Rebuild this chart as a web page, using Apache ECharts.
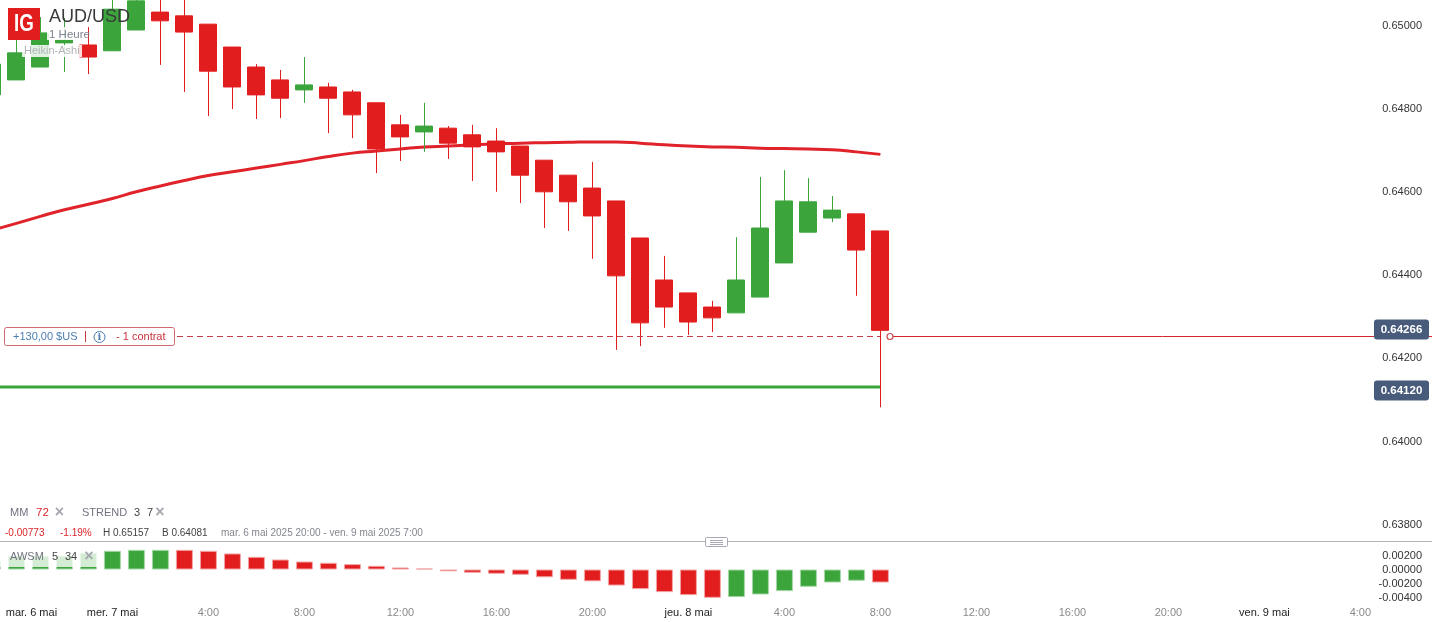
<!DOCTYPE html>
<html><head><meta charset="utf-8">
<style>html,body{margin:0;padding:0;background:#fff}#c{width:1432px;height:622px}</style>
<script src="https://cdn.jsdelivr.net/npm/echarts@6/dist/echarts.min.js"></script>
</head><body><div id="c"></div>
<script>
const timeLabels = ['','','mar. 6 mai','','','mer. 7 mai','','','','4:00','','','','8:00','','','','12:00','','','','16:00','','','','20:00','','','','jeu. 8 mai','','','','4:00','','','','8:00','','','','12:00','','','','16:00','','','','20:00','','','','ven. 9 mai','','','','4:00'];
const dateTicks = ['mar. 6 mai','mer. 7 mai','jeu. 8 mai','ven. 9 mai'];
const opens  = [.64832,.64868,.64899,.64957,.64952,.64938,.64988,.65031,.65022,.65002,.64947,.64899,.64868,.64844,.64851,.64839,.64813,.64760,.64743,.64752,.64736,.64721,.64709,.64675,.64639,.64608,.64577,.64488,.64387,.64356,.64322,.64308,.64346,.64428,.64502,.64536,.64546,.64505];
const closes = [.64906,.64933,.64981,.64964,.64923,.65038,.65058,.65010,.64983,.64889,.64851,.64832,.64824,.64856,.64824,.64784,.64702,.64731,.64757,.64716,.64707,.64695,.64639,.64599,.64575,.64541,.64397,.64284,.64322,.64286,.64296,.64387,.64512,.64577,.64575,.64555,.64459,.64266];
const lows   = [.64832,.64868,.64899,.64887,.64882,.64938,.64988,.64904,.64839,.64781,.64798,.64774,.64776,.64813,.64740,.64728,.64644,.64673,.64695,.64678,.64625,.64599,.64572,.64512,.64505,.64438,.64219,.64228,.64272,.64255,.64262,.64308,.64346,.64428,.64502,.64526,.64349,.64081];
const highs  = [.64906,.64988,.65019,.65017,.64995,.65070,.65084,.65079,.65070,.65002,.64947,.64906,.64892,.64923,.64861,.64844,.64813,.64784,.64813,.64757,.64760,.64752,.64709,.64675,.64639,.64671,.64577,.64488,.64445,.64356,.64337,.64490,.64635,.64651,.64632,.64589,.64546,.64505];
const maValues = [.64507,.64523,.64540,.64556,.64569,.64583,.64599,.64613,.64626,.64638,.64647,.64656,.64665,.64674,.64684,.64692,.64697,.64702,.64707,.64709,.64712,.64714,.64716,.64717,.64718,.64719,.64719,.64716,.64712,.64709,.64707,.64706,.64704,.64703,.64702,.64700,.64695,.64689];
const strendLevel = 0.64130;
const awsmValues = [.00124,.00196,.00196,.00196,.00239,.00267,.00281,.00281,.00281,.00267,.00229,.00181,.00143,.00114,.00096,.00077,.00053,.00029,.00014,-.00026,-.00047,-.00061,-.00076,-.00111,-.00147,-.00169,-.00229,-.0028,-.00323,-.00366,-.00404,-.00394,-.00357,-.00309,-.00247,-.00186,-.00161,-.00186];
const awsmDir = ['u','u','u','u','u','u','u','u','d','d','d','d','d','d','d','d','d','d','d','d','d','d','d','d','d','d','d','d','d','d','d','u','u','u','u','u','u','d'];
const priceTicks = [0.638,0.640,0.642,0.644,0.646,0.648,0.650];
const awsmTicks = [-0.004,-0.002,0,0.002];

const GREEN='#3ba53c', RED='#e21d1e', FONT='"Liberation Sans",Arial,sans-serif';
const candles = opens.map((o,i)=>[o,closes[i],lows[i],highs[i]]);
const chart = echarts.init(document.getElementById('c'),null,{renderer:'canvas'});
const T=(text,x,y,fill,size,extra,scaleX)=>({type:'text',x,y,z:50,silent:true,scaleX:scaleX||1,style:Object.assign({text,fill,fontSize:size,fontFamily:FONT,textVerticalAlign:'middle'},extra||{})});
const R=(x,y,w,h,fill,extra,r)=>({type:'rect',z:40,silent:true,shape:{x,y,width:w,height:h,r:r||0},style:Object.assign({fill},extra||{})});
const L=(x1,y1,x2,y2,stroke,w,dash)=>({type:'line',z:40,silent:true,shape:{x1,y1,x2,y2},style:{stroke,lineWidth:w||1,lineDash:dash||null}});
const X=(x,y)=>T('×',x,y,'#a5a7b0',16,{fontWeight:'bold',textAlign:'center'});
const xHidden={type:'category',data:timeLabels,axisLine:{show:false},axisTick:{show:false},axisLabel:{show:false},splitLine:{show:false}};
const graphics=[
 R(22,45,60,12,'rgba(255,255,255,0.85)'),
 R(47,27,40,13,'rgba(255,255,255,0.85)'),
 R(8,8,32,32,RED),
 T('IG',24,24.5,'#fff',24,{fontWeight:'bold',textAlign:'center'},0.78),
 T('AUD/USD',49,17,'#3a3a3a',18),
 T('1 Heure',49,34.5,'#7f8290',11.5),
 T('Heikin-Ashi',24,51,'#b2b2ba',11),
 T('MM',10,513,'#70737f',11),T('72',36,513,'#d9252a',11.5),X(59.5,513),
 T('STREND',82,513,'#70737f',11),T('3',134,513,'#444',11),T('7',147,513,'#444',11),X(160,513),
 T('-0.00773',5,533,'#d9252a',10),T('-1.19%',60,533,'#d9252a',10),
 T('H 0.65157',103,533,'#444',10),T('B 0.64081',162,533,'#444',10),
 T('mar. 6 mai 2025 20:00 - ven. 9 mai 2025 7:00',221,533,'#84868f',10),
 L(0,541.5,1432,541.5,'#b3b3b8',1),
 R(705.5,537.5,22,9,'#fff',{stroke:'#a8a8b4',lineWidth:1},1),
 L(710,540.5,723,540.5,'#a8a8b4',1),L(710,542.5,723,542.5,'#a8a8b4',1),L(710,544.5,723,544.5,'#a8a8b4',1),
 R(0,551,98,16,'rgba(255,255,255,0.78)'),
 T('AWSM',10,557,'#70737f',11),T('5',52,557,'#444',11),T('34',65,557,'#444',11),X(89,557),
 L(177,336.5,880,336.5,'#c4404a',1,[6,4]),
 L(893,336.5,1432,336.5,'#d3262c',1),
 {type:'circle',z:41,silent:true,shape:{cx:890,cy:336.5,r:3},style:{fill:'#fff',stroke:'#c9484e',lineWidth:1.2}},
 R(4.5,327.5,170,18,'#fff',{stroke:'#cf6a70',lineWidth:1},2),
 T('+130,00 $US',13,337,'#4a7db0',11),
 L(85.5,331,85.5,342,'#c53a40',1),
 {type:'circle',z:41,silent:true,shape:{cx:99.5,cy:337,r:5.5},style:{fill:'#fff',stroke:'#4a7db0',lineWidth:1}},
 T('i',99.5,337,'#4a7db0',10,{textAlign:'center',fontWeight:'bold',fontFamily:'"DejaVu Serif",serif'}),
 T('- 1 contrat',116,337,'#c8323c',11),
 R(1374,319.5,55,20,'#485b7b',null,3),
 T('0.64266',1401.5,330,'#fff',11.5,{fontWeight:'bold',textAlign:'center'}),
 R(1374,380.5,55,20,'#485b7b',null,3),
 T('0.64120',1401.5,391,'#fff',11.5,{fontWeight:'bold',textAlign:'center'})
];
chart.setOption({
 animation:false,
 backgroundColor:'#fff',
 textStyle:{fontFamily:FONT},
 grid:[{left:-19.6,top:0,width:1392,height:541,outerBoundsMode:'none'},{left:-19.6,top:541,width:1392,height:61,outerBoundsMode:'none'}],
 xAxis:[
  Object.assign({gridIndex:0},xHidden),
  {type:'category',gridIndex:1,data:timeLabels,axisLine:{show:false},axisTick:{show:false},splitLine:{show:false},
   axisLabel:{show:true,interval:0,margin:5,hideOverlap:false,
    formatter:v=>{ if(!v) return ''; if(v==='mar. 6 mai') return '{s|'+v+'}'; return dateTicks.includes(v)?'{d|'+v+'}':'{t|'+v+'}'; },
    rich:{d:{color:'#222',fontSize:11,fontFamily:FONT},s:{color:'#222',fontSize:11,fontFamily:FONT,padding:[0,18,0,0]},t:{color:'#8a8a8a',fontSize:11,fontFamily:FONT}}}}
 ],
 yAxis:[
  {type:'value',gridIndex:0,position:'right',min:0.637596,max:0.650601,axisLine:{show:false},axisTick:{show:false},splitLine:{show:false},
   axisLabel:{customValues:priceTicks,align:'right',margin:49.6,verticalAlign:'middle',color:'#333',fontSize:11,formatter:v=>'{v|'+v.toFixed(5)+'}',rich:{v:{color:'#333',fontSize:11,fontFamily:FONT,padding:[1,0,0,0]}}}},
  {type:'value',gridIndex:1,position:'right',min:-0.00464,max:0.00407,axisLine:{show:false},axisTick:{show:false},splitLine:{show:false},
   axisLabel:{customValues:awsmTicks,align:'right',margin:49.6,verticalAlign:'middle',color:'#333',fontSize:11,formatter:v=>'{v|'+v.toFixed(5)+'}',rich:{v:{color:'#333',fontSize:11,fontFamily:FONT,padding:[1,0,0,0]}}}}
 ],
 series:[
  {type:'line',name:'MM 72',data:maValues,xAxisIndex:0,yAxisIndex:0,showSymbol:false,smooth:0.5,z:2,lineStyle:{color:'#e0232a',width:3}},
  {type:'line',name:'STREND',data:[[0,strendLevel],[37,strendLevel]],xAxisIndex:0,yAxisIndex:0,showSymbol:false,z:2,lineStyle:{color:GREEN,width:3}},
  {type:'candlestick',name:'AUD/USD',data:candles,xAxisIndex:0,yAxisIndex:0,barWidth:17.5,z:3,
   itemStyle:{color:GREEN,color0:RED,borderColor:GREEN,borderColor0:RED,borderWidth:1}},
  {type:'bar',name:'AWSM',xAxisIndex:1,yAxisIndex:1,barWidth:17,
   data:awsmValues.map((v,i)=>({value:v,itemStyle:awsmDir[i]==='u'?{color:GREEN,borderColor:'#a6d7a7',borderWidth:1}:{color:RED,borderColor:'#f2a5a5',borderWidth:1}}))}
 ],
 graphic:graphics
});
</script></body></html>
